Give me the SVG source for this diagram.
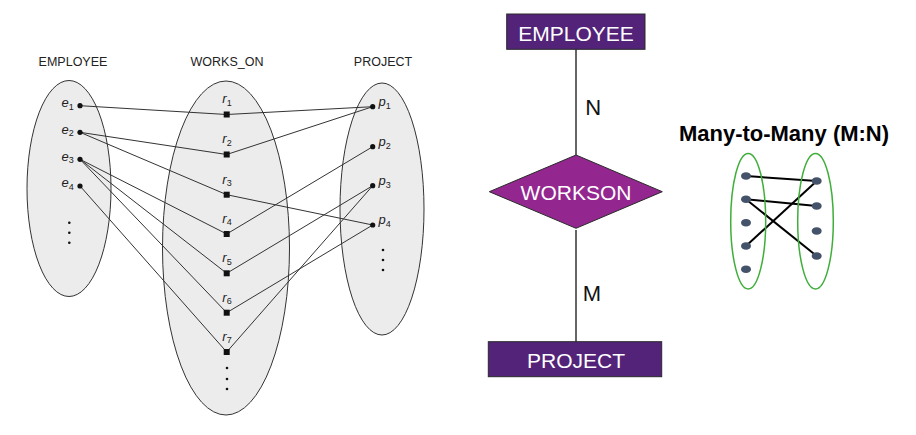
<svg xmlns="http://www.w3.org/2000/svg" width="916" height="435" viewBox="0 0 916 435">
<style>
.set{fill:#ececec;stroke:#333;stroke-width:1}
.hdr{font-family:"Liberation Sans",Arial,sans-serif;font-size:12.5px;fill:#222;text-anchor:middle}
.lbl{font-family:"Liberation Sans",Arial,sans-serif;font-style:italic;font-size:13px;fill:#222}
.sub{font-size:9px;font-style:normal}
.ln{stroke:#333;stroke-width:1;fill:none}
.dot{fill:#111}
.sq{fill:#111}
.ent{fill:#532379;stroke:#2a2a2a;stroke-width:1}
.rel{fill:#93278f;stroke:#2a2a2a;stroke-width:1}
.wt{font-family:"Liberation Sans",Arial,sans-serif;font-size:21px;fill:#fff;text-anchor:middle}
.card{font-family:"Liberation Sans",Arial,sans-serif;font-size:22px;fill:#111;text-anchor:middle}
.er{stroke:#333;stroke-width:1.5}
.grn{fill:none;stroke:#3fae3a;stroke-width:1.5}
.md{fill:#45536a}
.ml{stroke:#000;stroke-width:2}
</style>

<!-- Left instance diagram: sets -->
<g id="employee-set">
  <ellipse class="set" cx="69" cy="188.5" rx="42" ry="108"/>
  <text class="hdr" x="73" y="66">EMPLOYEE</text>
</g>
<g id="workson-set">
  <ellipse class="set" cx="226" cy="248" rx="63.5" ry="167"/>
  <text class="hdr" x="227" y="66">WORKS_ON</text>
</g>
<g id="project-set">
  <ellipse class="set" cx="382" cy="209" rx="42" ry="126"/>
  <text class="hdr" x="383" y="66">PROJECT</text>
</g>

<!-- connectors (instance lines) -->
<g id="connectors">
  <line class="ln" x1="80" y1="105.7" x2="226.7" y2="114.5"/>
  <line class="ln" x1="80" y1="132.3" x2="226.7" y2="154.5"/>
  <line class="ln" x1="80" y1="132.3" x2="226.7" y2="194.7"/>
  <line class="ln" x1="80" y1="159.3" x2="226.7" y2="234"/>
  <line class="ln" x1="80" y1="159.3" x2="226.7" y2="273.3"/>
  <line class="ln" x1="80" y1="159.3" x2="226.7" y2="312.7"/>
  <line class="ln" x1="80" y1="186" x2="226.7" y2="352"/>
  <line class="ln" x1="226.7" y1="114.5" x2="372.7" y2="106.7"/>
  <line class="ln" x1="226.7" y1="154.5" x2="372.7" y2="106.7"/>
  <line class="ln" x1="226.7" y1="194.7" x2="372.7" y2="225"/>
  <line class="ln" x1="226.7" y1="234" x2="372.7" y2="146.7"/>
  <line class="ln" x1="226.7" y1="273.3" x2="372.7" y2="185.7"/>
  <line class="ln" x1="226.7" y1="312.7" x2="372.7" y2="225"/>
  <line class="ln" x1="226.7" y1="352" x2="372.7" y2="185.7"/>
  <!-- ER connectors -->
  <line class="er" x1="576" y1="49" x2="576" y2="155"/>
  <line class="er" x1="576" y1="230" x2="576" y2="342"/>
  <!-- M:N example lines -->
  <line class="ml" x1="746" y1="176" x2="816.7" y2="181"/>
  <line class="ml" x1="746" y1="199.3" x2="816.7" y2="206"/>
  <line class="ml" x1="746" y1="199.3" x2="816.7" y2="256"/>
  <line class="ml" x1="746" y1="246" x2="816.7" y2="181"/>
</g>

<!-- employee elements -->
<g id="e1"><circle class="dot" cx="80" cy="105.7" r="2.6"/><text class="lbl" x="61.5" y="107">e<tspan class="sub" dy="2.5">1</tspan></text></g>
<g id="e2"><circle class="dot" cx="80" cy="132.3" r="2.6"/><text class="lbl" x="61.5" y="133.6">e<tspan class="sub" dy="2.5">2</tspan></text></g>
<g id="e3"><circle class="dot" cx="80" cy="159.3" r="2.6"/><text class="lbl" x="61.5" y="160.6">e<tspan class="sub" dy="2.5">3</tspan></text></g>
<g id="e4"><circle class="dot" cx="80" cy="186" r="2.6"/><text class="lbl" x="61.5" y="187.3">e<tspan class="sub" dy="2.5">4</tspan></text></g>
<g id="e-more"><circle class="dot" cx="69.3" cy="222.7" r="1.3"/><circle class="dot" cx="69.3" cy="232.7" r="1.3"/><circle class="dot" cx="69.3" cy="242.7" r="1.3"/></g>

<!-- relationship instances -->
<g id="r1"><rect class="sq" x="223.7" y="111.5" width="6" height="6"/><text class="lbl" x="222.3" y="103.3">r<tspan class="sub" dy="2.5">1</tspan></text></g>
<g id="r2"><rect class="sq" x="223.7" y="151.5" width="6" height="6"/><text class="lbl" x="222.3" y="143.3">r<tspan class="sub" dy="2.5">2</tspan></text></g>
<g id="r3"><rect class="sq" x="223.7" y="191.7" width="6" height="6"/><text class="lbl" x="222.3" y="183.5">r<tspan class="sub" dy="2.5">3</tspan></text></g>
<g id="r4"><rect class="sq" x="223.7" y="231" width="6" height="6"/><text class="lbl" x="222.3" y="222.8">r<tspan class="sub" dy="2.5">4</tspan></text></g>
<g id="r5"><rect class="sq" x="223.7" y="270.3" width="6" height="6"/><text class="lbl" x="222.3" y="262.1">r<tspan class="sub" dy="2.5">5</tspan></text></g>
<g id="r6"><rect class="sq" x="223.7" y="309.7" width="6" height="6"/><text class="lbl" x="222.3" y="301.5">r<tspan class="sub" dy="2.5">6</tspan></text></g>
<g id="r7"><rect class="sq" x="223.7" y="349" width="6" height="6"/><text class="lbl" x="222.3" y="340.8">r<tspan class="sub" dy="2.5">7</tspan></text></g>
<g id="r-more"><circle class="dot" cx="227" cy="368" r="1.3"/><circle class="dot" cx="227" cy="379" r="1.3"/><circle class="dot" cx="227" cy="389" r="1.3"/></g>

<!-- project elements -->
<g id="p1"><circle class="dot" cx="372.7" cy="106.7" r="2.6"/><text class="lbl" x="378.5" y="106">p<tspan class="sub" dy="2.5">1</tspan></text></g>
<g id="p2"><circle class="dot" cx="372.7" cy="146.7" r="2.6"/><text class="lbl" x="378.5" y="146">p<tspan class="sub" dy="2.5">2</tspan></text></g>
<g id="p3"><circle class="dot" cx="372.7" cy="185.7" r="2.6"/><text class="lbl" x="378.5" y="185">p<tspan class="sub" dy="2.5">3</tspan></text></g>
<g id="p4"><circle class="dot" cx="372.7" cy="225" r="2.6"/><text class="lbl" x="378.5" y="224.3">p<tspan class="sub" dy="2.5">4</tspan></text></g>
<g id="p-more"><circle class="dot" cx="383" cy="250" r="1.3"/><circle class="dot" cx="383" cy="260" r="1.3"/><circle class="dot" cx="383" cy="270" r="1.3"/></g>

<!-- ER diagram -->
<g id="er-employee">
  <rect class="ent" x="506.7" y="14" width="138.3" height="35.3"/>
  <text class="wt" x="576" y="40.5">EMPLOYEE</text>
</g>
<g id="er-workson">
  <polygon class="rel" points="576,155 662.3,191.7 576,228.3 489.3,191.7"/>
  <text class="wt" x="576" y="199.5">WORKSON</text>
</g>
<g id="er-project">
  <rect class="ent" x="488.3" y="341.7" width="173.4" height="35"/>
  <text class="wt" x="576" y="367.5">PROJECT</text>
</g>
<g id="card-n"><text class="card" x="593.3" y="114.5">N</text></g>
<g id="card-m"><text class="card" x="592" y="301">M</text></g>

<!-- Many-to-Many example -->
<g id="mn-title">
  <text x="784" y="141" font-family="'Liberation Sans',Arial,sans-serif" font-weight="bold" font-size="22" text-anchor="middle" fill="#000">Many-to-Many (M:N)</text>
</g>
<g id="mn-left">
  <ellipse class="grn" cx="748.2" cy="221.2" rx="17.5" ry="67.8"/>
  <ellipse class="md" cx="746" cy="176" rx="5" ry="3.8"/>
  <ellipse class="md" cx="746" cy="199.3" rx="5" ry="3.8"/>
  <ellipse class="md" cx="746" cy="222.7" rx="5" ry="3.8"/>
  <ellipse class="md" cx="746" cy="246" rx="5" ry="3.8"/>
  <ellipse class="md" cx="746" cy="269.3" rx="5" ry="3.8"/>
</g>
<g id="mn-right">
  <ellipse class="grn" cx="815.5" cy="221.2" rx="17.8" ry="67.8"/>
  <ellipse class="md" cx="816.7" cy="181" rx="5" ry="3.8"/>
  <ellipse class="md" cx="816.7" cy="206" rx="5" ry="3.8"/>
  <ellipse class="md" cx="816.7" cy="231" rx="5" ry="3.8"/>
  <ellipse class="md" cx="816.7" cy="256" rx="5" ry="3.8"/>
</g>
</svg>
